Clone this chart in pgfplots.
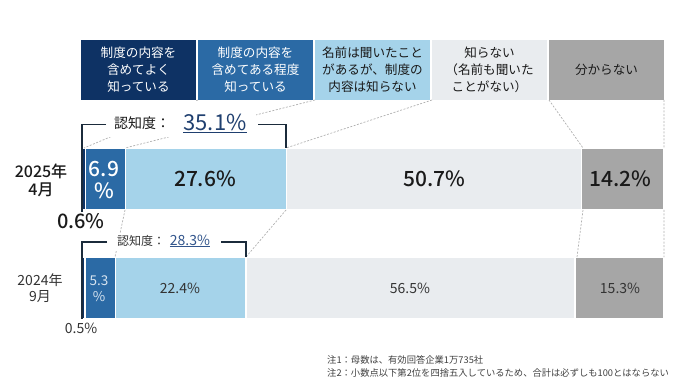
\documentclass[border=0pt]{standalone}
\usepackage{fontspec}
\setmainfont{Noto Sans CJK JP}[BoldFont={Noto Sans CJK JP Medium}]
\usepackage{pgfplots}
\pgfplotsset{compat=1.18}
\definecolor{c1}{HTML}{0E3264}
\definecolor{c2}{HTML}{2B6AA5}
\definecolor{c3}{HTML}{A5D3EA}
\definecolor{c4}{HTML}{E9ECEF}
\definecolor{c5}{HTML}{A6A6A6}
\definecolor{brk}{HTML}{1B2B3B}
\definecolor{dsh}{HTML}{B0B0B0}
\definecolor{txt}{HTML}{1A1A1A}
\definecolor{txt2}{HTML}{333333}
\definecolor{navy}{HTML}{1F3F6F}
\begin{document}
\begin{tikzpicture}
\begin{axis}[
  at={(0,0)}, anchor=south west,
  scale only axis, width=679pt, height=391pt,
  xmin=-14.0893, xmax=102.5773, ymin=0, ymax=391,
  hide axis, clip=false,
  xbar stacked, bar width=62pt,
  every axis plot/.append style={draw=white, line width=1.4pt},
]
% y = 212 : 2025年4月, y = 103 : 2024年9月
\addplot[fill=c1] coordinates {(0.6,212) (0.5,103)};
\addplot[fill=c2] coordinates {(6.9,212) (5.3,103)};
\addplot[fill=c3] coordinates {(27.6,212) (22.4,103)};
\addplot[fill=c4] coordinates {(50.7,212) (56.5,103)};
\addplot[fill=c5] coordinates {(14.2,212) (15.3,103)};
\end{axis}
\begin{scope}[x=1pt,y=-1pt,yshift=391pt]
\path (0,0) rectangle (679,391);
% legend boxes
\fill[c1] (81,40) rectangle (196,100);
\fill[c2] (198,40) rectangle (313,100);
\fill[c3] (315,40) rectangle (430,100);
\fill[c4] (432,40) rectangle (547,100);
\fill[c5] (549,40) rectangle (664,100);
\begin{scope}[every node/.style={align=center, font=\fontsize{12.6}{17}\selectfont, inner sep=0pt}]
\node[text=white] at (138.5,70) {制度の内容を\\含めてよく\\知っている};
\node[text=white] at (255.5,70) {制度の内容を\\含めてある程度\\知っている};
\node[text=txt] at (372.5,70) {名前は聞いたこと\\があるが、制度の\\内容は知らない};
\node[text=txt] at (489.5,70) {知らない\\（名前も聞いた\\ことがない）};
\node[text=txt] at (606.5,70) {分からない};
\end{scope}
% dashed connectors
\begin{scope}[dsh, dash pattern=on 2pt off 1.5pt, line width=0.7pt]
\draw (315,100)--(125,148) (198,100)--(84,148) (432,100)--(286,148) (549,100)--(583,148) (664,100)--(664,148);
\draw (125,210)--(115,257) (286,210)--(246,257) (583,210)--(577,257) (664,210)--(664,257);
\end{scope}
\fill[white] (107,101) rectangle (256,137);
\fill[white] (107,233) rectangle (221,251);
% brackets
\draw[brk, line width=1.3pt] (106,124.5) -- (82,124.5) -- (82,212);
\draw[brk, line width=1.3pt] (258,124.5) -- (286,124.5) -- (286,148);
\draw[brk, line width=1.2pt] (107,242) -- (82,242) -- (82,319);
\draw[brk, line width=1.2pt] (221,242) -- (246,242) -- (246,257);
% 認知度 labels
\node[anchor=base west, inner sep=0pt, font=\fontsize{14}{16}\selectfont, text=txt] at (114,129) {認知度：};
\node[anchor=base, inner sep=0pt, font=\fontsize{22}{24}\selectfont, text=navy] at (215,131) {\underline{35.1\%}};
\node[anchor=base west, inner sep=0pt, font=\fontsize{12}{14}\selectfont, text=txt2] at (117,245) {認知度：};
\node[anchor=base, inner sep=0pt, font=\fontsize{14}{16}\selectfont, text={rgb,255:red,50;green,85;blue,140}] at (190,245) {\underline{28.3\%}};
% 2025 labels
\begin{scope}[every node/.style={anchor=base, inner sep=0pt, font=\fontsize{21}{24}\bfseries\selectfont, text=txt}]
\node[text=white] at (104,177) {6.9};
\node[text=white] at (104,199) {\%};
\node at (205,187) {27.6\%};
\node at (434,187) {50.7\%};
\node at (620,187) {14.2\%};
\node[font=\fontsize{20}{24}\bfseries\selectfont] at (81,229) {0.6\%};
\node[font=\fontsize{16}{18}\bfseries\selectfont] at (41,178) {2025年};
\node[font=\fontsize{16}{18}\bfseries\selectfont] at (41,196) {4月};
\end{scope}
% 2024 labels
\begin{scope}[every node/.style={anchor=base, inner sep=0pt, font=\fontsize{14}{16}\selectfont, text=txt2}]
\node[text={rgb,255:red,215;green,228;blue,240}, font=\fontsize{13.5}{16}\selectfont] at (99,285) {5.3};
\node[text={rgb,255:red,215;green,228;blue,240}, font=\fontsize{13.5}{16}\selectfont] at (99,301) {\%};
\node at (180,293) {22.4\%};
\node at (410,293) {56.5\%};
\node at (620,293) {15.3\%};
\node at (81,333) {0.5\%};
\node at (40,285) {2024年};
\node at (40,301) {9月};
\end{scope}
% notes
\begin{scope}[every node/.style={anchor=base west, inner sep=0pt, font=\fontsize{9.3}{11}\selectfont, text={rgb,255:red,64;green,64;blue,64}}]
\node at (327,363) {注1：母数は、有効回答企業1万735社};
\node at (327,376) {注2：小数点以下第2位を四捨五入しているため、合計は必ずしも100とはならない};
\end{scope}
\end{scope}
\end{tikzpicture}
\end{document}
